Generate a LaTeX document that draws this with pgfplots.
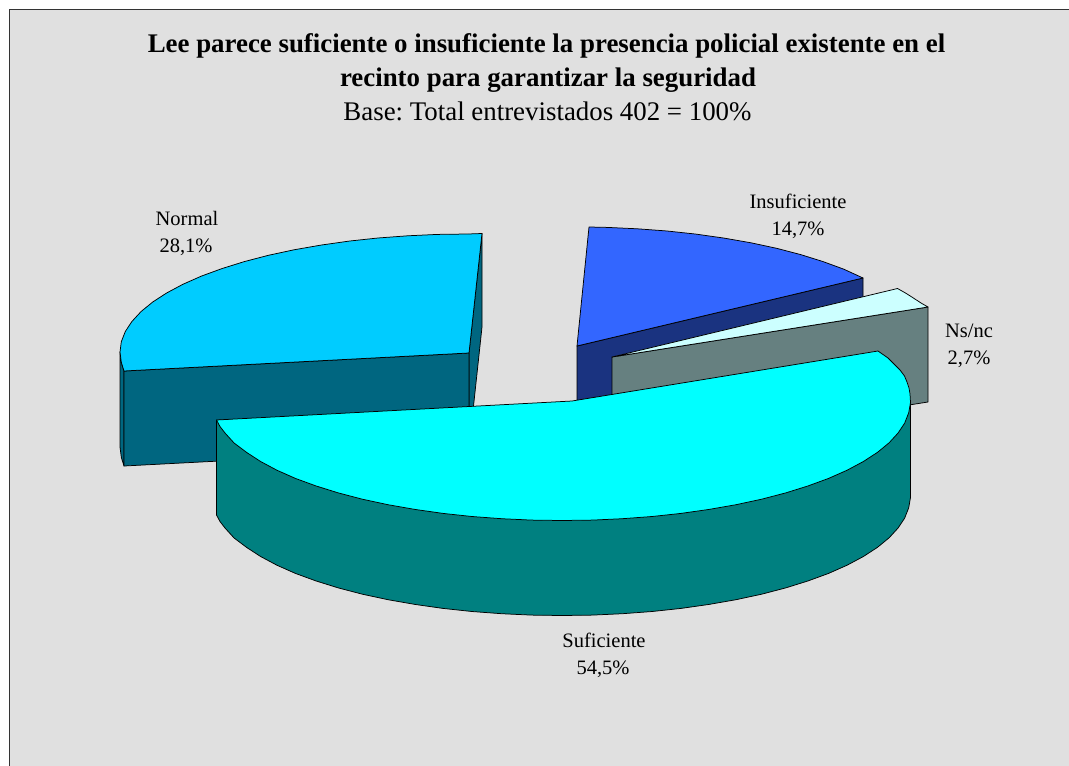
\documentclass[border=0pt]{standalone}
\usepackage{fontspec}
\setmainfont{Liberation Serif}
\usepackage{pgfplots}
\pgfplotsset{compat=1.18}
\definecolor{bgchart}{RGB}{224,224,224}
\definecolor{normaltop}{RGB}{0,204,255}
\definecolor{normalside}{RGB}{0,102,128}
\definecolor{insuftop}{RGB}{51,102,255}
\definecolor{insufside}{RGB}{26,51,128}
\definecolor{nsnctop}{RGB}{204,255,255}
\definecolor{nsncside}{RGB}{102,128,128}
\definecolor{suftop}{RGB}{0,255,255}
\definecolor{sufside}{RGB}{0,128,128}
\newcommand{\lab}[1]{\frenchspacing\fontsize{#1}{#1}\selectfont}
\begin{document}
\begin{tikzpicture}
\begin{axis}[
  scale only axis, width=1069pt, height=766pt,
  xmin=0, xmax=1069, ymin=0, ymax=766, y dir=reverse,
  hide axis, clip=true,
  every axis plot/.append style={no markers, line join=round, line width=0.75pt, draw=black},
]
% page and chart area
\addplot[fill=white, draw=none] coordinates {(0,0) (1069,0) (1069,766) (0,766)} --cycle;
\addplot[fill=bgchart, draw=black!80, line width=1.5pt] coordinates {(9.5,9.5) (1100,9.5) (1100,800) (9.5,800)} --cycle;

% Normal
\addplot[fill=normalside] coordinates {(482,233.5) (482,327) (469,448) (469,353)} --cycle;
\addplot[fill=normalside] coordinates {(120,352) (120,447) (121.3,457.3) (124,466) (124,371) (121.3,362.3)} --cycle;
\addplot[fill=normalside] coordinates {(124,371) (469,353) (469,448) (124,466)} --cycle;
\addplot[fill=normaltop] coordinates {
  (482,233.5) (468,234) (437.7,234.4) (407.6,235.8) (377.9,238) (349,241.1) (320.9,245.1)
  (294,249.8) (268.4,255.3) (244.3,261.6) (221.9,268.6) (201.4,276.1) (182.9,284.3)
  (166.6,293) (152.6,302.1) (141,311.6) (131.9,321.5) (125.3,331.5) (121.3,341.7)
  (120,352) (121.3,362.3) (124,371) (469,353)} --cycle;

% Insuficiente
\addplot[fill=insufside] coordinates {(577,346) (863,278) (863,373) (577,441)} --cycle;
\addplot[fill=insuftop] coordinates {
  (589,227) (607.3,227.4) (637.4,228.8) (667.1,231) (696,234.1) (724.1,238.1) (751,242.8)
  (776.6,248.3) (800.7,254.6) (823.1,261.6) (843.6,269.1) (863,278) (577,346)} --cycle;

% Ns/nc
\addplot[fill=nsncside] coordinates {(612,357) (928,307) (928,402) (612,452)} --cycle;
\addplot[fill=nsnctop] coordinates {(612,357) (897.5,288.5) (905.5,293) (913.4,298) (921,303) (928,307)} --cycle;

% Suficiente
\addplot[fill=sufside] coordinates {
  (216.5,420) (216.5,515) (220,521.5) (225,528) (234,537.9) (246.6,547.4) (260.6,556.5)
  (276.9,565.2) (295.4,573.4) (315.9,580.9) (338.3,587.9) (362.4,594.2) (388,599.7)
  (414.9,604.4) (443,608.4) (471.9,611.5) (501.6,613.7) (531.7,615.1) (562,615.5)
  (592.3,615.1) (622.4,613.7) (652.1,611.5) (681,608.4) (709.1,604.4) (736,599.7)
  (761.6,594.2) (785.7,587.9) (808.1,580.9) (828.6,573.4) (847.1,565.2) (863.4,556.5)
  (877.4,547.4) (889,537.9) (898.1,528) (904.7,518) (908.7,507.8) (910.5,497.5) (910.5,402.5)} --cycle;
\addplot[fill=suftop] coordinates {
  (878,351) (888,358) (894,364) (900,370) (904.5,376) (907,382) (909,388) (910,394) (910.5,402.5) (908.7,412.8)
  (904.7,423) (898.1,433) (889,442.9) (877.4,452.4) (863.4,461.5) (847.1,470.2) (828.6,478.4)
  (808.1,485.9) (785.7,492.9) (761.6,499.2) (736,504.7) (709.1,509.4) (681,513.4) (652.1,516.5)
  (622.4,518.7) (592.3,520.1) (562,520.5) (531.7,520.1) (501.6,518.7) (471.9,516.5) (443,513.4)
  (414.9,509.4) (388,504.7) (362.4,499.2) (338.3,492.9) (315.9,485.9) (295.4,478.4) (276.9,470.2)
  (260.6,461.5) (246.6,452.4) (234,442.9) (225,433) (220,426.5) (216.5,420) (572,401)} --cycle;

% texts
\node[anchor=base] at (axis cs:546.5,52.5) {\lab{26.87}\bfseries Lee parece suficiente o insuficiente la presencia policial existente en el};
\node[anchor=base] at (axis cs:548,86.7) {\lab{26.87}\bfseries recinto para garantizar la seguridad};
\node[anchor=base] at (axis cs:547.5,120.5) {\lab{26.87}Base: Total entrevistados 402 = 100\%};
\node[anchor=base] at (axis cs:187,225) {\lab{20.5}Normal};
\node[anchor=base] at (axis cs:186,252) {\lab{20.5}28,1\%};
\node[anchor=base] at (axis cs:798,208) {\lab{20.5}Insuficiente};
\node[anchor=base] at (axis cs:798,235) {\lab{20.5}14,7\%};
\node[anchor=base] at (axis cs:969,337) {\lab{20.5}Ns/nc};
\node[anchor=base] at (axis cs:969,364) {\lab{20.5}2,7\%};
\node[anchor=base] at (axis cs:604,647) {\lab{20.5}Suficiente};
\node[anchor=base] at (axis cs:603,674.5) {\lab{20.5}54,5\%};
\end{axis}
\end{tikzpicture}
\end{document}
